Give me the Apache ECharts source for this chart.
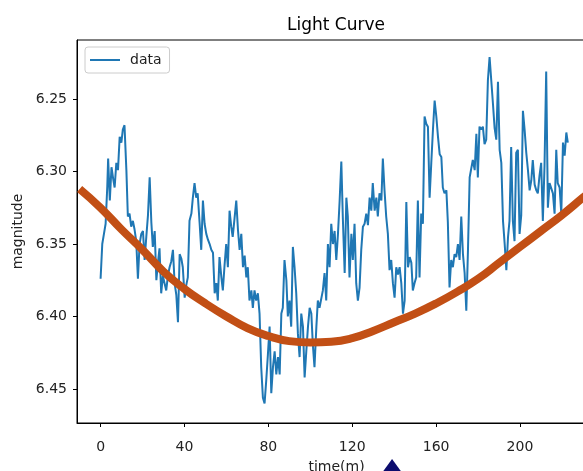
<!DOCTYPE html>
<html>
<head>
<meta charset="utf-8">
<script src="https://cdn.jsdelivr.net/npm/echarts@6/dist/echarts.min.js"></script>
<style>
html,body{margin:0;padding:0;background:#fff;}
#chart{width:583px;height:471px;}
</style>
</head>
<body>
<div id="chart"></div>
<script>
// ---- data ----
const time = [
0.0,0.8,1.6,2.4,3.2,3.6,4.4,5.2,6.0,6.7,
7.5,8.3,9.1,9.9,10.6,11.4,12.3,13.0,13.8,14.6,
15.4,16.2,17.0,17.8,18.6,19.4,20.2,21.0,21.8,22.6,
23.4,24.2,24.9,25.8,26.6,27.4,28.1,28.9,29.7,30.5,
31.3,32.1,32.9,33.7,34.5,35.3,36.1,36.9,37.7,38.5,
39.2,40.1,40.9,41.6,42.4,43.3,44.0,44.8,45.6,46.3,
47.2,48.0,48.8,49.6,50.4,51.2,52.0,52.8,53.6,54.4,
55.2,55.9,56.7,57.6,58.3,59.1,59.9,60.7,61.5,62.3,
63.0,63.9,64.7,65.5,66.3,67.1,67.9,68.7,69.5,70.2,
71.0,71.9,72.6,73.4,74.2,75.0,75.8,76.6,77.4,78.2,
79.0,79.8,80.6,81.4,82.2,83.0,83.8,84.6,85.4,86.2,
86.9,87.7,88.6,89.3,90.1,90.9,91.7,92.5,93.3,94.1,
94.9,95.7,96.5,97.3,98.1,98.9,99.7,100.5,101.2,102.0,
102.9,103.6,104.4,105.2,106.0,106.8,107.6,108.4,109.2,110.0,
110.8,111.6,112.4,113.2,114.0,114.8,115.5,116.4,117.2,117.9,
118.7,119.6,120.3,121.1,121.9,122.7,123.5,124.3,125.1,125.9,
126.7,127.5,128.3,129.1,129.8,130.7,131.5,132.2,133.0,133.9,
134.6,135.4,136.2,137.0,137.8,138.6,139.4,140.2,141.0,141.8,
142.6,143.4,144.2,145.0,145.8,146.6,147.4,148.2,148.9,149.7,
150.5,151.3,152.1,152.9,153.7,154.5,155.3,156.1,156.9,157.7,
158.5,159.3,160.1,160.9,161.7,162.5,163.2,164.0,164.9,165.6,
166.4,167.2,168.0,168.8,169.6,170.4,171.2,172.0,172.8,173.6,
174.4,175.2,176.0,176.8,177.5,178.4,179.2,179.9,180.7,181.5,
182.3,183.1,183.9,184.7,185.5,186.3,187.1,187.9,188.7,189.5,
190.3,191.1,191.9,192.7,193.5,194.3,195.0,195.8,196.6,197.4,
198.2,199.0,199.8,200.6,201.4,202.2,203.0,203.8,204.6,205.4,
206.1,207.0,207.8,208.5,209.3,210.1,210.9,211.7,212.5,213.3,
214.1,214.9,215.7,216.5,217.3,218.0,218.9,219.7,220.5,221.3,
222.1,222.8
];
const magnitude = [
6.374,6.350,6.343,6.336,6.310,6.291,6.320,6.297,6.305,6.311,
6.294,6.299,6.276,6.280,6.271,6.268,6.299,6.331,6.329,6.338,
6.334,6.340,6.348,6.374,6.350,6.343,6.341,6.361,6.345,6.330,
6.304,6.335,6.352,6.341,6.375,6.362,6.353,6.384,6.372,6.377,
6.382,6.372,6.366,6.362,6.354,6.377,6.385,6.404,6.357,6.360,
6.366,6.387,6.378,6.373,6.334,6.329,6.318,6.308,6.318,6.315,
6.335,6.354,6.320,6.336,6.343,6.347,6.350,6.354,6.356,6.384,
6.377,6.389,6.359,6.373,6.382,6.365,6.350,6.366,6.327,6.338,
6.345,6.332,6.320,6.340,6.354,6.343,6.366,6.358,6.373,6.366,
6.389,6.382,6.394,6.382,6.389,6.384,6.398,6.435,6.456,6.460,
6.444,6.426,6.407,6.453,6.435,6.424,6.440,6.428,6.440,6.398,
6.394,6.361,6.375,6.400,6.389,6.407,6.352,6.366,6.384,6.412,
6.428,6.398,6.407,6.442,6.424,6.407,6.394,6.398,6.419,6.435,
6.407,6.389,6.394,6.393,6.382,6.370,6.389,6.350,6.366,6.336,
6.350,6.341,6.361,6.343,6.320,6.293,6.331,6.370,6.318,6.331,
6.373,6.343,6.361,6.336,6.377,6.389,6.380,6.354,6.338,6.336,
6.329,6.337,6.318,6.327,6.308,6.327,6.318,6.331,6.315,6.320,
6.291,6.313,6.331,6.343,6.368,6.361,6.377,6.387,6.366,6.371,
6.366,6.377,6.398,6.389,6.321,6.366,6.359,6.363,6.382,6.377,
6.373,6.320,6.373,6.329,6.336,6.262,6.267,6.269,6.318,6.294,
6.271,6.251,6.262,6.276,6.288,6.290,6.311,6.315,6.313,6.335,
6.380,6.361,6.366,6.357,6.359,6.350,6.361,6.331,6.357,6.370,
6.396,6.354,6.304,6.303,6.292,6.299,6.274,6.304,6.269,6.271,
6.269,6.281,6.278,6.237,6.221,6.237,6.253,6.270,6.278,6.238,
6.285,6.294,6.334,6.350,6.368,6.345,6.334,6.283,6.334,6.348,
6.287,6.285,6.343,6.330,6.258,6.271,6.287,6.299,6.313,6.306,
6.292,6.309,6.313,6.315,6.303,6.294,6.334,6.296,6.231,6.325,
6.308,6.308,6.315,6.329,6.285,6.308,6.311,6.329,6.280,6.289,
6.273,6.280
];
const fitTime = [-10,0,10,20,30,40,50,60,70,80,90,100,110,120,130,140,150,160,170,180,190,200,210,220,230,240];
const fitMag  = [6.312,6.325,6.340,6.354,6.369,6.381,6.391,6.400,6.408,6.4135,6.417,6.418,6.4175,6.415,6.410,6.404,6.398,6.391,6.383,6.374,6.363,6.352,6.341,6.330,6.318,6.306];
const markerTime = [139];
const markerMag = [6.5045];
const xTicks = [0,40,80,120,160,200];
const yTicks = [6.25,6.30,6.35,6.40,6.45];
const seriesName = 'data';

// ---- chart ----
const FONT = 'DejaVu Sans';
const dataPts = time.map((t,i)=>[t, magnitude[i]]);
const fitPts = fitTime.map((t,i)=>[t, fitMag[i]]);
const markPts = markerTime.map((t,i)=>[t, markerMag[i]]);

const chart = echarts.init(document.getElementById('chart'), null, {renderer:'canvas'});
chart.setOption({
  animation:false,
  backgroundColor:'#fff',
  title:{
    text:'Light Curve', left:282, top:12,
    textStyle:{fontFamily:FONT, fontSize:17, fontWeight:'normal', color:'#000'}
  },
  legend:{
    data:[{name:seriesName, icon:'rect'}], left:85, top:47,
    orient:'vertical',
    padding:[6,8,6,5],
    itemWidth:30, itemHeight:2,
    borderColor:'#cccccc', borderWidth:1, borderRadius:3,
    backgroundColor:'rgba(255,255,255,0.8)',
    textStyle:{fontFamily:FONT, fontSize:14, color:'#222', padding:[0,0,0,5]}
  },
  grid:{
    left:77, top:40, right:-13, bottom:48,
    outerBoundsMode:'none', containLabel:false,
    show:true, borderColor:'#000', borderWidth:1, backgroundColor:'transparent'
  },
  xAxis:{
    type:'value', min:-11.25, max:236.25,
    name:'time(m)', nameLocation:'middle', nameGap:37,
    nameTextStyle:{fontFamily:FONT, fontSize:14, color:'#222'},
    axisLine:{show:true, onZero:false, lineStyle:{color:'#000', width:1}},
    axisTick:{show:true, inside:false, length:4, lineStyle:{color:'#000'}, customValues:xTicks},
    axisLabel:{show:true, margin:17, fontFamily:FONT, fontSize:14, color:'#222', customValues:xTicks},
    splitLine:{show:false}
  },
  yAxis:{
    type:'value', inverse:true, min:6.2092, max:6.4735,
    name:'magnitude', nameLocation:'middle', nameGap:45, nameRotate:90,
    nameTextStyle:{fontFamily:FONT, fontSize:14, color:'#222'},
    axisLine:{show:true, onZero:false, lineStyle:{color:'#000', width:1}},
    axisTick:{show:true, inside:false, length:4, lineStyle:{color:'#000'}, customValues:yTicks},
    axisLabel:{show:true, margin:10, fontFamily:FONT, fontSize:14, color:'#222',
      customValues:yTicks, formatter:(v)=>Number(v).toFixed(2)},
    splitLine:{show:false}
  },
  series:[
    {
      name:seriesName, type:'line', data:dataPts,
      showSymbol:false, symbol:'none', smooth:false,
      lineStyle:{color:'#1f77b4', width:2},
      itemStyle:{color:'#1f77b4'},
      z:2
    },
    {
      name:'fit', type:'line', data:fitPts,
      showSymbol:false, symbol:'none', smooth:0.5,
      lineStyle:{color:'#c24f15', width:8, cap:'butt'},
      itemStyle:{color:'#c24f15'},
      z:3
    },
    {
      name:'marker', type:'scatter', data:markPts, clip:false,
      symbol:'triangle', symbolSize:[26,18],
      itemStyle:{color:'#0c0c6e', opacity:1},
      z:5
    }
  ]
});
</script>
</body>
</html>
